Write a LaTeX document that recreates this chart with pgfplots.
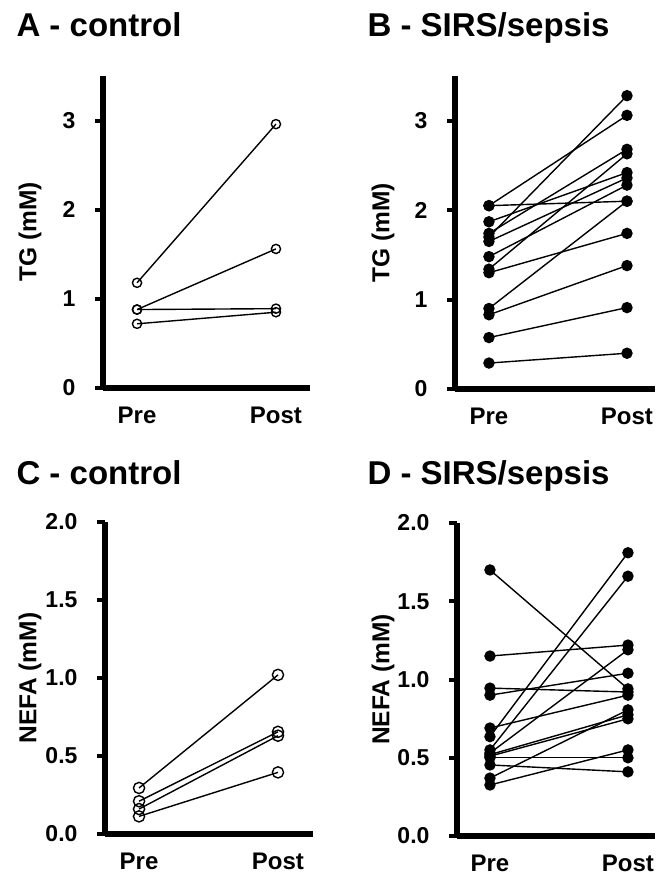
\documentclass[border=0pt]{standalone}
\usepackage{fontspec}
\setmainfont{Liberation Sans}
\usepackage{pgfplots}
\pgfplotsset{compat=1.18}
\pgfplotsset{
  panel/.style={
    scale only axis, anchor=south west,
    axis lines=left,
    axis line style={-, black, line width=6.5pt},
    xtick={0,1}, xticklabels={Pre,Post},
    xtick style={draw=none},
    ytick style={line width=4pt, black},
    major tick length=8pt, tick align=outside,
    /pgf/number format/assume math mode=true,
    ticklabel style={font=\fontsize{23}{23}\selectfont\bfseries},
    yticklabel style={xshift=-16pt},
    xticklabel style={font=\fontsize{24}{24}\selectfont\bfseries, yshift=-7pt},
    label style={font=\fontsize{24.5}{24.5}\selectfont\bfseries},
    ymin=0, clip=false,
  },
  subj/.style={black, line width=1.4pt},
  openm/.style={subj, mark=o, mark size=4.6pt, mark options={fill=white, line width=1.4pt}},
  fillm/.style={subj, mark=*, mark size=5pt, mark options={fill=black}},
}
\begin{document}
\begin{tikzpicture}
\useasboundingbox (0pt,0pt) rectangle (656pt,876pt);
\node[anchor=base west, font=\fontsize{33}{33}\selectfont\bfseries] at (13pt,839pt) {A - control};
\node[anchor=base west, font=\fontsize{33}{33}\selectfont\bfseries] at (364pt,839pt) {B - SIRS/sepsis};
\node[anchor=base west, font=\fontsize{33}{33}\selectfont\bfseries] at (13pt,391pt) {C - control};
\node[anchor=base west, font=\fontsize{33}{33}\selectfont\bfseries] at (364pt,391pt) {D - SIRS/sepsis};

% Panel A
\begin{axis}[panel, at={(103pt,488pt)}, width=207pt, height=312pt,
  xmin=-0.245, xmax=1.245, ymax=3.5, ytick={0,1,2,3},
  ylabel={TG (mM)}, ylabel style={at={(axis description cs:-0.353,0.5)}, anchor=center}]
\addplot[openm] coordinates {(0,1.18) (1,2.96)};
\addplot[openm] coordinates {(0,0.88) (1,1.56)};
\addplot[openm] coordinates {(0,0.88) (1,0.89)};
\addplot[openm] coordinates {(0,0.72) (1,0.85)};
\end{axis}

% Panel B
\begin{axis}[panel, at={(455pt,487pt)}, width=200pt, height=313pt,
  xmin=-0.246, xmax=1.203, ymax=3.5, ytick={0,1,2,3},
  ylabel={TG (mM)}, ylabel style={at={(axis description cs:-0.36,0.5)}, anchor=center}]
\addplot[fillm] coordinates {(0,2.05) (1,3.06)};
\addplot[fillm] coordinates {(0,2.05) (1,2.10)};
\addplot[fillm] coordinates {(0,1.87) (1,2.42)};
\addplot[fillm] coordinates {(0,1.74) (1,2.68)};
\addplot[fillm] coordinates {(0,1.70) (1,3.28)};
\addplot[fillm] coordinates {(0,1.65) (1,2.36)};
\addplot[fillm] coordinates {(0,1.48) (1,2.28)};
\addplot[fillm] coordinates {(0,1.34) (1,2.63)};
\addplot[fillm] coordinates {(0,1.30) (1,1.74)};
\addplot[fillm] coordinates {(0,0.90) (1,2.10)};
\addplot[fillm] coordinates {(0,0.83) (1,1.38)};
\addplot[fillm] coordinates {(0,0.575) (1,0.91)};
\addplot[fillm] coordinates {(0,0.29) (1,0.40)};
\end{axis}

% Panel C
\begin{axis}[panel, at={(105pt,42pt)}, width=208pt, height=312pt,
  xmin=-0.245, xmax=1.252, ymax=2.0, ytick={0,0.5,1,1.5,2},
  yticklabel style={/pgf/number format/fixed, /pgf/number format/fixed zerofill, /pgf/number format/precision=1},
  ylabel={NEFA (mM)}, ylabel style={at={(axis description cs:-0.36,0.5)}, anchor=center},
  openm/.append style={mark size=5.6pt}]
\addplot[openm] coordinates {(0,0.295) (1,1.02)};
\addplot[openm] coordinates {(0,0.21) (1,0.655)};
\addplot[openm] coordinates {(0,0.16) (1,0.63)};
\addplot[openm] coordinates {(0,0.113) (1,0.395)};
\end{axis}

% Panel D
\begin{axis}[panel, at={(457pt,40pt)}, width=198pt, height=313pt,
  xmin=-0.239, xmax=1.196, ymax=2.0, ytick={0,0.5,1,1.5,2},
  yticklabel style={/pgf/number format/fixed, /pgf/number format/fixed zerofill, /pgf/number format/precision=1},
  ylabel={NEFA (mM)}, ylabel style={at={(axis description cs:-0.374,0.5)}, anchor=center}]
\addplot[fillm] coordinates {(0,1.70) (1,0.94)};
\addplot[fillm] coordinates {(0,1.15) (1,1.22)};
\addplot[fillm] coordinates {(0,0.945) (1,0.92)};
\addplot[fillm] coordinates {(0,0.90) (1,1.04)};
\addplot[fillm] coordinates {(0,0.69) (1,0.90)};
\addplot[fillm] coordinates {(0,0.635) (1,1.81)};
\addplot[fillm] coordinates {(0,0.55) (1,1.66)};
\addplot[fillm] coordinates {(0,0.53) (1,1.19)};
\addplot[fillm] coordinates {(0,0.52) (1,0.774)};
\addplot[fillm] coordinates {(0,0.51) (1,0.749)};
\addplot[fillm] coordinates {(0,0.50) (1,0.50)};
\addplot[fillm] coordinates {(0,0.454) (1,0.41)};
\addplot[fillm] coordinates {(0,0.37) (1,0.806)};
\addplot[fillm] coordinates {(0,0.326) (1,0.55)};
\end{axis}
\end{tikzpicture}
\end{document}
